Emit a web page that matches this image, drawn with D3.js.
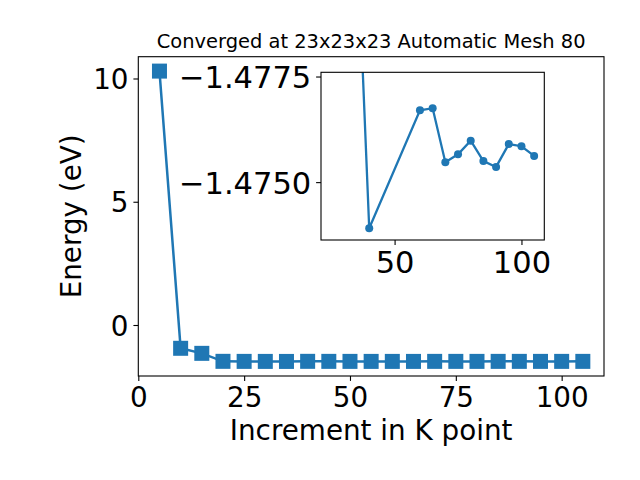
<!DOCTYPE html>
<html>
<head>
<meta charset="utf-8">
<script src="https://cdn.jsdelivr.net/npm/d3@7"></script>
<style>
  html, body { margin: 0; padding: 0; background: #fff; }
  svg { display: block; font-family: "DejaVu Sans", sans-serif; }
</style>
</head>
<body>
<svg id="chart" width="640" height="480"></svg>
<script>
// ---- data ----
const kPoints = [5, 10, 15, 20, 25, 30, 35, 40, 45, 50, 55, 60, 65, 70, 75, 80, 85, 90, 95, 100, 105];
const energies = [10.3, -0.945, -1.15, -1.474, -1.476, -1.477, -1.478, -1.4739, -1.4752, -1.4760, -1.4765, -1.4767, -1.4768, -1.4755, -1.4757, -1.4760, -1.4755, -1.4754, -1.4759, -1.4759, -1.4756];
const insetK = [35, 40, 60, 65, 70, 75, 80, 85, 90, 95, 100, 105];
const insetE = [-1.4812, -1.47391, -1.47670, -1.47675, -1.47547, -1.47566, -1.47598, -1.47550, -1.47536, -1.47590, -1.47585, -1.47562];
const xTicks = [0, 25, 50, 75, 100];
const yTicks = [0, 5, 10];
const insetXTicks = [50, 100];
const insetYTicks = [-1.4775, -1.4750];
const titleText = "Converged at 23x23x23 Automatic Mesh 80";
const xLabel = "Increment in K point";
const yLabel = "Energy (eV)";

const color = "#1f77b4";
const svg = d3.select("#chart");

// ---- main axes ----
const M = { left: 138.3, right: 604, top: 56.7, bottom: 376 };
const x = d3.scaleLinear().domain([0, 110]).range([M.left, M.right]);
const y = d3.scaleLinear().domain([-2.069, 10.884]).range([M.bottom, M.top]);

const tickFont = 27.8;

const gx = svg.append("g").attr("transform", `translate(0,${M.bottom})`)
  .call(d3.axisBottom(x).tickValues(xTicks).tickFormat(d3.format("d")).tickSize(4.9).tickPadding(4.9));
const gy = svg.append("g").attr("transform", `translate(${M.left},0)`)
  .call(d3.axisLeft(y).tickValues(yTicks).tickFormat(d3.format("d")).tickSize(4.9).tickPadding(4.9));
[gx, gy].forEach(g => {
  g.select(".domain").remove();
  g.selectAll(".tick line").attr("stroke", "#000").attr("stroke-width", 1.1);
  g.selectAll(".tick text").attr("font-size", tickFont).attr("fill", "#000")
    .attr("font-family", "DejaVu Sans");
});
gx.selectAll(".tick text").attr("dy", "0.76em");
gy.selectAll(".tick text").attr("dy", "0.36em");

// line + markers
svg.append("path").datum(kPoints.map((k, i) => [k, energies[i]]))
  .attr("fill", "none").attr("stroke", color).attr("stroke-width", 2.5)
  .attr("d", d3.line().x(d => x(d[0])).y(d => y(d[1])));
const sq = 15;
svg.append("g").selectAll("rect").data(kPoints.map((k, i) => [k, energies[i]]))
  .join("rect")
  .attr("x", d => x(d[0]) - sq / 2).attr("y", d => y(d[1]) - sq / 2)
  .attr("width", sq).attr("height", sq).attr("fill", color);

// frame
svg.append("rect").attr("x", M.left).attr("y", M.top)
  .attr("width", M.right - M.left).attr("height", M.bottom - M.top)
  .attr("fill", "none").attr("stroke", "#000").attr("stroke-width", 1.1);

// title and labels
svg.append("text").attr("x", (M.left + M.right) / 2).attr("y", 48)
  .attr("text-anchor", "middle").attr("font-size", 19.44).text(titleText);
svg.append("text").attr("x", (M.left + M.right) / 2).attr("y", 440)
  .attr("text-anchor", "middle").attr("font-size", 27.8).text(xLabel);
svg.append("text").attr("transform", `translate(80.5,${(M.top + M.bottom) / 2}) rotate(-90)`)
  .attr("text-anchor", "middle").attr("font-size", 27.8).text(yLabel);

// ---- inset axes ----
const I = { left: 321, right: 544.3, top: 72.3, bottom: 240 };
const ix = d3.scaleLinear().domain([21, 109]).range([I.left, I.right]);
const iy = d3.scaleLinear().domain([-1.47760, -1.47363]).range([I.top, I.bottom]);

svg.append("rect").attr("x", I.left).attr("y", I.top)
  .attr("width", I.right - I.left).attr("height", I.bottom - I.top).attr("fill", "#fff");

svg.append("defs").append("clipPath").attr("id", "insetClip")
  .append("rect").attr("x", I.left).attr("y", I.top)
  .attr("width", I.right - I.left).attr("height", I.bottom - I.top);

const ig = svg.append("g").attr("clip-path", "url(#insetClip)");
const iData = insetK.map((k, i) => [k, insetE[i]]);
ig.append("path").datum(iData)
  .attr("fill", "none").attr("stroke", color).attr("stroke-width", 2.3)
  .attr("d", d3.line().x(d => ix(d[0])).y(d => iy(d[1])));
ig.selectAll("circle").data(iData).join("circle")
  .attr("cx", d => ix(d[0])).attr("cy", d => iy(d[1])).attr("r", 4).attr("fill", color);

const insetFont = 30.5;
const igx = svg.append("g").attr("transform", `translate(0,${I.bottom})`)
  .call(d3.axisBottom(ix).tickValues(insetXTicks).tickFormat(d3.format("d")).tickSize(4.9).tickPadding(4.9));
const igy = svg.append("g").attr("transform", `translate(${I.left},0)`)
  .call(d3.axisLeft(iy).tickValues(insetYTicks).tickFormat(d3.format(".4f")).tickSize(4.9).tickPadding(4.9));
[igx, igy].forEach(g => {
  g.select(".domain").remove();
  g.selectAll(".tick line").attr("stroke", "#000").attr("stroke-width", 1.1);
  g.selectAll(".tick text").attr("font-size", insetFont).attr("fill", "#000")
    .attr("font-family", "DejaVu Sans");
});
igx.selectAll(".tick text").attr("dy", "0.76em");
igy.selectAll(".tick text").attr("dy", "0.36em");

svg.append("rect").attr("x", I.left).attr("y", I.top)
  .attr("width", I.right - I.left).attr("height", I.bottom - I.top)
  .attr("fill", "none").attr("stroke", "#000").attr("stroke-width", 1.1);
</script>
</body>
</html>
